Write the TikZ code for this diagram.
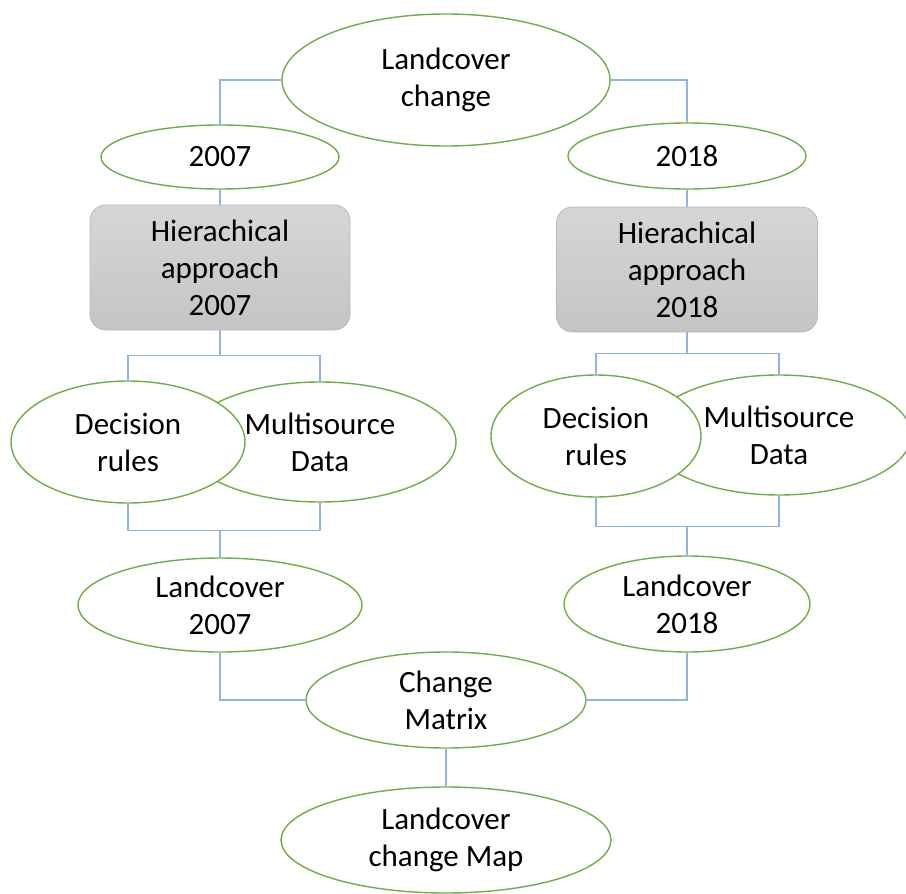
\documentclass[tikz,border=0pt]{standalone}
\usepackage{fontspec}
\setmainfont{Carlito}
\usetikzlibrary{shapes.geometric,calc}
\definecolor{ovalgreen}{HTML}{70AD47}
\definecolor{linkblue}{HTML}{8EB4E3}
\tikzset{
    oval/.style={ellipse, draw=ovalgreen, line width=1.4pt, fill=white,
        inner sep=0pt, align=center, font=\fontsize{31}{37}\selectfont},
    stagebox/.style={rectangle, rounded corners=16pt, draw=gray!55,
        line width=0.8pt, top color=gray!32, bottom color=gray!46,
        inner sep=0pt, align=center, minimum width=260pt,
        minimum height=125pt, font=\fontsize{31}{37}\selectfont},
    link/.style={draw=linkblue, line width=1.2pt}
}
\begin{document}
\begin{tikzpicture}[x=1pt,y=-1pt]
        \path[use as bounding box, clip] (0,0) rectangle (906,894);
        %% Top
        \node[oval, minimum width=328pt, minimum height=132pt] (top)
            at (446,80) {Landcover\\change};
        \node[oval, minimum width=238pt, minimum height=64pt] (y07)
            at (220,157) {2007};
        \node[oval, minimum width=238pt, minimum height=66pt] (y18)
            at (687,156) {2018};
        %% Classification
        \node[stagebox] (hb07) at (220,267.5) {Hierachical\\approach\\2007};
        \node[stagebox, minimum width=261pt] (hb18) at (687,269.5)
            {Hierachical\\approach\\2018};
        %% Inputs (multisource first, decision rules lie over it)
        \node[oval, minimum width=272pt, minimum height=120pt] (ms07)
            at (320,442) {Multisource\\Data};
        \node[oval, minimum width=234pt, minimum height=122pt] (dr07)
            at (128,442) {Decision\\rules};
        \node[oval, minimum width=264pt, minimum height=120pt] (ms18)
            at (779,435) {Multisource\\Data};
        \node[oval, minimum width=210pt, minimum height=122pt] (dr18)
            at (596,436) {Decision\\rules};
        %% Landcover maps
        \node[oval, minimum width=284pt, minimum height=94pt] (lc07)
            at (220,605) {Landcover\\2007};
        \node[oval, minimum width=246pt, minimum height=96pt] (lc18)
            at (687,604) {Landcover\\2018};
        \node[oval, minimum width=280pt, minimum height=96pt] (cm)
            at (446,700) {Change\\Matrix};
        \node[oval, minimum width=330pt, minimum height=106pt] (map)
            at (446,840) {Landcover\\change Map};
        %% Junctions
        \coordinate (s07) at ($(hb07.south)!0.5!(hb07.south |- dr07.north)$);
        \coordinate (s18) at ($(hb18.south)!0.5!(hb18.south |- dr18.north)$);
        \coordinate (j07) at ($(lc07.north)!0.5!(lc07.north |- dr07.south)$);
        \coordinate (j18) at ($(lc18.north)!0.5!(lc18.north |- dr18.south)$);
        %% Connectors
        \draw[link] (top.west) -| (y07.north);
        \draw[link] (top.east) -| (y18.north);
        \draw[link] (y07.south) -- (y07.south |- hb07.north);
        \draw[link] (y18.south) -- (y18.south |- hb18.north);
        \draw[link] (hb07.south) -- (s07);
        \draw[link] (dr07.north) |- (s07) -| (ms07.north);
        \draw[link] (hb18.south) -- (s18);
        \draw[link] (dr18.north) |- (s18) -| (ms18.north);
        \draw[link] (dr07.south) |- (j07) -| (ms07.south);
        \draw[link] (j07) -- (lc07.north);
        \draw[link] (dr18.south) |- (j18) -| (ms18.south);
        \draw[link] (j18) -- (lc18.north);
        \draw[link] (lc07.south) |- (cm.west);
        \draw[link] (lc18.south) |- (cm.east);
        \draw[link] (cm.south) -- (map.north);
    \end{tikzpicture}
\end{document}
